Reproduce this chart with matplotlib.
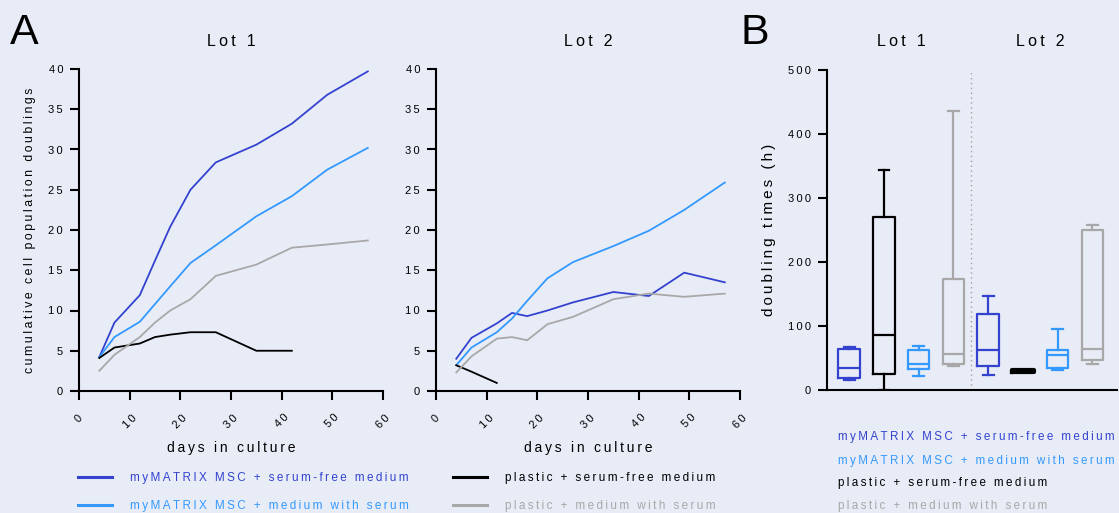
import numpy as np
import matplotlib
matplotlib.use('Agg')
import matplotlib.pyplot as plt
from matplotlib.lines import Line2D

plt.rcParams['font.family'] = ['Liberation Sans', 'DejaVu Sans']

# ---- data ----
days = [4, 7, 12, 15, 18, 22, 27, 35, 42, 49, 57]

lot1_mm_sf = [4.2, 8.5, 11.9, 16.2, 20.4, 25.0, 28.4, 30.6, 33.2, 36.8, 39.7]
lot1_mm_ser = [4.2, 6.7, 8.6, 10.8, 13.0, 15.9, 18.1, 21.7, 24.2, 27.5, 30.2]
lot1_pl_sf = [4.1, 5.4, 5.9, 6.7, 7.0, 7.3, 7.3, 5.0, 5.0]
lot1_pl_ser = [2.5, 4.5, 6.7, 8.5, 10.0, 11.4, 14.3, 15.7, 17.8, 18.2, 18.7]

lot2_mm_sf = [4.0, 6.6, 8.4, 9.7, 9.3, 10.0, 11.0, 12.3, 11.8, 14.7, 13.5]
lot2_mm_ser = [3.2, 5.4, 7.3, 9.0, 11.2, 14.0, 16.0, 18.0, 19.9, 22.5, 25.9]
lot2_pl_sf = [3.2, 2.4, 1.0]
lot2_pl_ser = [2.3, 4.3, 6.5, 6.7, 6.3, 8.3, 9.2, 11.4, 12.1, 11.7, 12.1]

# doubling times (h): box stats per group, Lot 1 then Lot 2
# order within a lot: myMATRIX serum-free, plastic serum-free, myMATRIX serum, plastic serum
box_group = [0, 2, 1, 3, 0, 2, 1, 3]
box_med = [35, 86, 41, 56, 62, 30, 54, 64]
box_q1 = [18, 25, 33, 40, 37, 28.5, 34, 47]
box_q3 = [64, 271, 63, 173, 118, 31, 63, 250]
box_lo = [16, 0, 22, 37, 23, 28.5, 31, 40]
box_hi = [67, 344, 69, 436, 147, 31, 95, 258]

labels = ['myMATRIX MSC + serum-free medium',
          'myMATRIX MSC + medium with serum',
          'plastic + serum-free medium',
          'plastic + medium with serum']
colors = ['#3343d0', '#3399ff', '#000000', '#a8a8a8']
bg = '#e8ecf6'


def sp(s):
    # letter spaced text like the original
    return '\u2009'.join(s)


W, H = 1119, 513
fig = plt.figure(figsize=(W / 100, H / 100), dpi=100, facecolor=bg)


def px_axes(l, t, r, b):
    return fig.add_axes([l / W, 1 - b / H, (r - l) / W, (b - t) / H])


def style(ax):
    ax.set_facecolor(bg)
    for s in ['top', 'right']:
        ax.spines[s].set_visible(False)
    for s in ['left', 'bottom']:
        ax.spines[s].set_linewidth(1.5)
    ax.tick_params(width=1.5, length=6.5, labelsize=8, pad=5)


ax1 = px_axes(79, 69, 383, 391)
ax2 = px_axes(436, 69, 740, 391)

series = [
    [lot1_mm_sf, lot1_mm_ser, lot1_pl_sf, lot1_pl_ser],
    [lot2_mm_sf, lot2_mm_ser, lot2_pl_sf, lot2_pl_ser],
]
for ax, grp in zip([ax1, ax2], series):
    style(ax)
    for vals, c in zip(grp, colors):
        ax.plot(days[:len(vals)], vals, color=c, lw=1.3)
    ax.set_xlim(0, 60)
    ax.set_ylim(0, 40)
    xt = list(range(0, 61, 10))
    ax.set_xticks(xt, labels=[sp(str(t)) for t in xt], rotation=45)
    ax.tick_params(axis='x', pad=9)
    yt = list(range(0, 41, 5))
    ax.set_yticks(yt, labels=[sp(str(t)) for t in yt])
    ax.set_xlabel(sp('days in culture'), fontsize=10, labelpad=8)

ax1.set_ylabel(sp('cumulative cell population doublings'), fontsize=8.8, labelpad=9)

fig.text(231 / W, 1 - 42 / H, sp('Lot 1'), ha='center', va='center', fontsize=11.5)
fig.text(588 / W, 1 - 42 / H, sp('Lot 2'), ha='center', va='center', fontsize=11.5)
fig.text(10 / W, 1 - 33 / H, 'A', ha='left', va='center', fontsize=31)
fig.text(740 / W, 1 - 33 / H, 'B', ha='left', va='center', fontsize=31)

# legend for panel A, two columns
handles = [Line2D([], [], color=c, lw=2.2) for c in colors]
for cols, x0 in [([0, 1], 78), ([2, 3], 453)]:
    leg = fig.legend([handles[i] for i in cols], [sp(labels[i]) for i in cols],
                     loc='upper left', bbox_to_anchor=(x0 / W, 1 - 472 / H),
                     frameon=False, fontsize=8.5, handlelength=2.9,
                     handletextpad=1.5, labelspacing=1.37, borderpad=0,
                     borderaxespad=0)
    for t, i in zip(leg.get_texts(), cols):
        t.set_color(colors[i])

# panel B: box plots
ax3 = px_axes(827, 70, 1117, 390)
style(ax3)
pos = np.arange(1, len(box_med) + 1)
stats = []
for i in range(len(box_med)):
    stats.append(dict(med=box_med[i], q1=box_q1[i], q3=box_q3[i],
                      whislo=box_lo[i], whishi=box_hi[i], fliers=[]))
bp = ax3.bxp(stats, positions=pos, widths=0.62, showfliers=False,
             patch_artist=False)
for i in range(len(box_med)):
    c = colors[box_group[i]]
    lw = 1.6
    bp['boxes'][i].set(color=c, lw=lw)
    bp['medians'][i].set(color=c, lw=lw)
    for k in (2 * i, 2 * i + 1):
        bp['whiskers'][k].set(color=c, lw=lw)
        bp['caps'][k].set(color=c, lw=lw)
bp['boxes'][5].set(lw=3)
bp['medians'][5].set(lw=3)
ax3.axvline(4.5, color='#a0a0a0', lw=1, ls=(0, (1, 2.5)))
ax3.set_xlim(0.36, 8.71)
ax3.set_ylim(0, 500)
yt = list(range(0, 501, 100))
ax3.set_yticks(yt, labels=[sp(str(t)) for t in yt])
ax3.set_xticks([])
ax3.set_ylabel(sp('doubling times (h)'), fontsize=11, labelpad=9)

fig.text(901 / W, 1 - 42 / H, sp('Lot 1'), ha='center', va='center', fontsize=11.5)
fig.text(1040 / W, 1 - 42 / H, sp('Lot 2'), ha='center', va='center', fontsize=11.5)
for j, y in enumerate([437, 461, 483, 506]):
    fig.text(838 / W, 1 - y / H, sp(labels[j]), color=colors[j],
             ha='left', va='center', fontsize=8.4)

fig.savefig('out.png', dpi=100, facecolor=bg)
